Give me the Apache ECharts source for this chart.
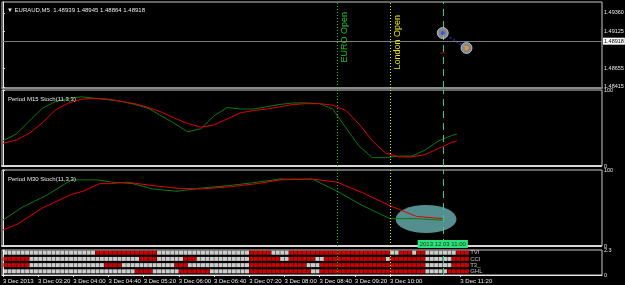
<!DOCTYPE html>
<html>
<head>
<meta charset="utf-8">
<script src="https://cdn.jsdelivr.net/npm/echarts@6/dist/echarts.min.js"></script>
<style>
html,body{margin:0;padding:0;background:#000;}
#chart{width:625px;height:285px;}
</style>
</head>
<body>
<div id="chart"></div>
<script>
// x values are minutes after 02:40 on 3 Dec 2013 (one M5 bar = 5 min)
var timeTicks = [0,40,80,120,160,200,240,280,320,360,400,440,520];
var priceTicks = [1.48415,1.48655,1.49125,1.49360];
var bidPrice = 1.48918;
var header = 'EURAUD,M5  1.48939 1.48945 1.48864 1.48918';
var euroOpen = 380, londonOpen = 440, cursorTime = 500;

// Period M15 Stoch(11,3,3)
var m15Time = [0,15,30,45,60,75,90,105,120,135,150,165,180,195,210,225,240,255,270,285,300,315,330,345,360,375,390,405,420,435,450,465,480,495,510,516];
var m15K = [33,42,59,76,85,89,91,89,87,85,81,76,66,56,45,49,66,77,75,75,78,81,83,83,82,75,50,26,11,11,13,13,21,33,40,42];
var m15D = [30,34,43,57,74,83,88,89,88,85,82,77,71,63,56,51,54,62,70,73,75,78,81,82,82,80,73,55,33,17,12,12,15,23,31,33];

// Period M30 Stoch(11,3,3)
var m30KTime = [0,22,50,78,107,125,148,170,198,224,261,289,315,352,380,409,440,470,500];
var m30K = [34,51,67,87,87,84,82,75,72,76,80,84,88,88,72,53,36,36,34];
var m30DTime = [0,17,45,78,91,110,122,141,167,198,224,258,289,315,352,380,409,440,470,500];
var m30D = [21,29,50,68,72,82,82,84,80,76,75,78,82,87,88,84,70,53,39,36];

// drawn objects
var arrowTime = [500,527];
var arrowPrice = [1.49104,1.48913];
var dashTime = 500, dashPrice = 1.48849;
var ellipseTime = 481, ellipseValue = 35.5;

// signal matrix, r = red cell, w = white cell, one per M5 bar
var signalNames = ['TVI','CCI','T3_','GHL'];
var signalLevels = [2.05,1.48,0.91,0.34];
var signalRows = [
  'wwwwwwwwww wwwwwwwwww wrrrrrrrrr rrrrrwwwww wwwwwwwwww wwwwwwrrrr rwwwwrrrrr rrrrrrrrrr rrrrrrrrww rrrwrrwwww wwwrrr',
  'rrrrrrwwww wwwwwwwwww wwwwwwwwww wrrrrwwwww wrrrwwwwww wwwwwwrrrr rrrwwrrrrr rwwrrrrrrr rrrrrrrwrr rrrrrrwwww wwrrrr',
  'rrrrrrwwww wwwwwwwwww wwwrrrrwww wwwwwwwwwr rrwwwwwwww wwwwwwrrrr rrrrrrrrrw wwrrrrrrrr rrrrrrrrrr rrrrrrwwww wwrrrr',
  'wwwwwwwwww wwwwwwwwww wwwwwwwwww rrrrwwwwww rrrrrrrwww wwwwwwrrrr rrrrrrrrrr wwrrrrrrrr rrrrrrrrrr rrrrrrwwww wrrrrr'
];

function pad(n){ return (n < 10 ? '0' : '') + n; }
function fmtTime(m){
  if (m === 0) return '3 Dec 2013';
  var t = 160 + m;
  return '3 Dec ' + pad(Math.floor(t/60)) + ':' + pad(t%60);
}
function zip(a,b){ var r=[]; for (var i=0;i<a.length;i++) r.push([a[i],b[i]]); return r; }

var redCells = [], whiteCells = [];
for (var r = 0; r < signalRows.length; r++){
  var row = signalRows[r].replace(/ /g,'');
  for (var c = 0; c < row.length; c++){
    var p = [c*5 + 2.5, signalLevels[r]];
    if (row[c] === 'r') redCells.push(p); else whiteCells.push(p);
  }
}
var nameData = [];
for (var k = 0; k < signalNames.length; k++) nameData.push([530, signalLevels[k]]);

function vLines(withText){
  return {
    silent:true, symbol:['none','none'], animation:false,
    data:[
      {xAxis:euroOpen, lineStyle:{color:'#22c822',type:[1,2],width:1},
       label:{show:withText, formatter:'EURO Open', position:'insideEndBottom', color:'#22c822', fontSize:9, distance:3, padding:[0,7,0,0]}},
      {xAxis:londonOpen, lineStyle:{color:'#e6e600',type:[1,2],width:1},
       label:{show:withText, formatter:'London Open', position:'insideEndBottom', color:'#e6e600', fontSize:9, distance:3, padding:[0,10,0,0]}},
      {xAxis:cursorTime, lineStyle:{color:'#2ecc88',type:[7,5],width:1}, label:{show:false}}
    ]
  };
}

var chart = echarts.init(document.getElementById('chart'));
var gridBase = {left:2, right:23, outerBoundsMode:'none', containLabel:false, show:true, borderColor:'#c8c8c8', borderWidth:1, backgroundColor:'#000'};
var grids = [
  Object.assign({top:2, height:86}, gridBase),
  Object.assign({top:90, height:76}, gridBase),
  Object.assign({top:170, height:76}, gridBase),
  Object.assign({top:250, height:25}, gridBase)
];
var sepStyles = [
  {color:'#8a8a8a', width:2},
  {color:'#d8d8d8', width:2, type:[1,1]},
  {color:'#d8d8d8', width:2, type:[1,1]},
  {color:'#e8e8e8', width:1}
];
var xAxes = [];
for (var g = 0; g < 4; g++){
  xAxes.push({
    type:'value', gridIndex:g, min:-1, max:681,
    splitLine:{show:false},
    axisLine:{show:true, onZero:false, lineStyle:sepStyles[g]},
    axisTick:g===3 ? {show:true, customValues:timeTicks, length:2, lineStyle:{color:'#e8e8e8'}} : {show:false},
    axisLabel:g===3 ? {show:true, customValues:timeTicks, formatter:fmtTime, align:'left', color:'#e8e8e8', fontSize:6, margin:3} : {show:false}
  });
}
xAxes.push({
  type:'value', gridIndex:3, min:-1, max:681, z:10,
  axisLine:{show:false}, axisTick:{show:false}, splitLine:{show:false},
  axisLabel:{show:true, customValues:[cursorTime], formatter:function(){ return '2013.12.03 11:00'; },
    backgroundColor:'#2fe07a', color:'#0a3a1a', fontSize:6, padding:[1,2,1,2], margin:2}
});

function rightAxis(g, min, max, ticks, fmt){
  return {
    type:'value', gridIndex:g, position:'right', min:min, max:max, scale:true,
    splitLine:{show:false},
    axisLine:{show:true, lineStyle:{color:'#e8e8e8'}},
    axisTick:{show:true, customValues:ticks, length:2, lineStyle:{color:'#e8e8e8'}},
    axisLabel:{customValues:ticks, formatter:fmt, color:'#e8e8e8', fontSize:5.5, margin:2}
  };
}

var titleStyle = {color:'#e8e8e8', fontSize:6, fontWeight:'normal'};

chart.setOption({
  animation:false,
  backgroundColor:'#000',
  textStyle:{fontFamily:'Liberation Sans'},
  title:[
    {text:'\u25BC ' + header, left:2, top:2, textStyle:titleStyle},
    {text:'Period M15 Stoch(11,3,3)', left:3, top:91, textStyle:titleStyle},
    {text:'Period M30 Stoch(11,3,3)', left:3, top:171, textStyle:titleStyle}
  ],
  grid:grids,
  xAxis:xAxes,
  yAxis:[
    rightAxis(0, 1.48402, 1.49500, priceTicks, function(v){ return v.toFixed(5); }),
    rightAxis(1, 0, 100, [0,100], function(v){ return String(v); }),
    rightAxis(2, 0, 100, [0,100], function(v){ return String(v); }),
    rightAxis(3, 0, 2.3, [0,2.3], function(v){ return String(v); })
  ],
  series:[
    {
      name:'arrow', type:'line', xAxisIndex:0, yAxisIndex:0, z:4,
      data:zip(arrowTime, arrowPrice), symbol:'none',
      lineStyle:{color:'#1c2090', width:2, type:[2,2]},
      markLine:(function(){
        var ml = vLines(true);
        ml.data.unshift({yAxis:bidPrice, lineStyle:{color:'#7a7a7a', type:'solid', width:1},
          label:{show:true, position:'end', formatter:bidPrice.toFixed(5), backgroundColor:'#ffffff',
            color:'#000', fontSize:5.5, padding:[1,1,0,1], distance:1}});
        return ml;
      })()
    },
    {
      name:'arrowPoints', type:'scatter', xAxisIndex:0, yAxisIndex:0, z:5,
      data:zip(arrowTime, arrowPrice), symbolSize:11,
      itemStyle:{color:'#a9a9a9', borderColor:'#d0d0d0', borderWidth:1}
    },
    {
      name:'arrowCentre', type:'scatter', xAxisIndex:0, yAxisIndex:0, z:6,
      data:zip(arrowTime, arrowPrice), symbolSize:4,
      itemStyle:{color:function(p){ return p.dataIndex === 0 ? '#2a3cff' : '#ffa020'; }}
    },
    {
      name:'dash', type:'scatter', xAxisIndex:0, yAxisIndex:0, z:6,
      data:[[dashTime, dashPrice]], symbol:'rect', symbolSize:[5,1],
      itemStyle:{color:'#e00000'}
    },
    {
      name:'M15 %K', type:'line', xAxisIndex:1, yAxisIndex:1, z:3,
      data:zip(m15Time, m15K), symbol:'none',
      lineStyle:{color:'#0b7a0b', width:1}, markLine:vLines(false)
    },
    {
      name:'M15 %D', type:'line', xAxisIndex:1, yAxisIndex:1, z:3,
      data:zip(m15Time, m15D), symbol:'none',
      lineStyle:{color:'#e40000', width:1}
    },
    {
      name:'ellipse', type:'scatter', xAxisIndex:2, yAxisIndex:2, z:1,
      data:[[ellipseTime, ellipseValue]], symbol:'circle', symbolSize:[61,28],
      itemStyle:{color:'#69b1b1'}
    },
    {
      name:'M30 %K', type:'line', xAxisIndex:2, yAxisIndex:2, z:3,
      data:zip(m30KTime, m30K), symbol:'none',
      lineStyle:{color:'#0b7a0b', width:1}, markLine:vLines(false)
    },
    {
      name:'M30 %D', type:'line', xAxisIndex:2, yAxisIndex:2, z:3,
      data:zip(m30DTime, m30D), symbol:'none',
      lineStyle:{color:'#e40000', width:1}
    },
    {
      name:'signalRed', type:'scatter', xAxisIndex:3, yAxisIndex:3, z:2,
      data:redCells, symbol:'rect', symbolSize:4, itemStyle:{color:'#ff0000'}
    },
    {
      name:'signalWhite', type:'scatter', xAxisIndex:3, yAxisIndex:3, z:2,
      data:whiteCells, symbol:'rect', symbolSize:4, itemStyle:{color:'#ffffff'},
      markLine:vLines(false)
    },
    {
      name:'signalNames', type:'scatter', xAxisIndex:3, yAxisIndex:3, z:3,
      data:nameData, symbolSize:0,
      label:{show:true, position:'right', distance:1, color:'#e8e8e8', fontSize:6,
        formatter:function(p){ return signalNames[p.dataIndex]; }}
    }
  ]
});
</script>
</body>
</html>
